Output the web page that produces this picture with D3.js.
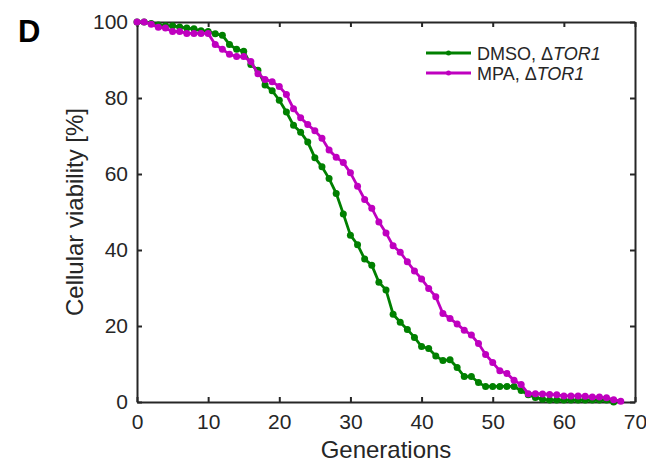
<!DOCTYPE html>
<html>
<head>
<meta charset="utf-8">
<script src="https://cdn.jsdelivr.net/npm/d3@7"></script>
<style>
  body { margin: 0; background: #fff; }
  text { font-family: "Liberation Sans", Arial, sans-serif; fill: #262626; }
</style>
</head>
<body>
<div id="chart"></div>
<script>
// data (one point per generation)
var generations = d3.range(0, 69);
var dmsoValues = [100, 100, 99.6, 99.2, 99, 99, 98.7, 98.4, 98.2, 97.7,
  97.5, 96.9, 96.5, 94.1, 92.8, 92.3, 88.8, 87.3, 83.4, 81.9,
  79.4, 76.3, 72.8, 71, 68.4, 64.3, 61.9, 58.8, 54.9, 49.5,
  43.9, 41.4, 37.6, 36, 31.5, 29.5, 23.1, 21, 19.1, 17,
  14.6, 14.1, 12.1, 10.9, 11.1, 9.1, 6.7, 6.7, 5.1, 4.1,
  4.1, 4.1, 4.1, 4.1, 3.0, 1.9, 1.2, 0.7, 0.5, 0.5,
  0.5, 0.5, 0.5, 0.5, 0.5, 0.5, 0.5, 0];
var mpaValues = [100, 100, 99.4, 98.6, 98.4, 97.5, 97.5, 97, 97, 97,
  97, 94.1, 92.8, 91.5, 90.9, 90.9, 89.6, 86.4, 84.9, 84.3,
  83, 80.9, 77.2, 74.8, 73, 71.4, 69.4, 66.3, 64.4, 63,
  60.3, 56.8, 53.3, 51, 47.4, 44.5, 41.1, 39.4, 36.9, 34.5,
  32.4, 29.9, 27.7, 23.3, 22, 20.5, 18.9, 17.6, 15.4, 12.5,
  10.4, 8.2, 7.5, 5.7, 4.6, 2.2, 2.2, 2.1, 2.0, 1.9,
  1.6, 1.6, 1.6, 1.5, 1.3, 1.3, 1.1, 0.6, 0.2];
var xTicks = [0, 10, 20, 30, 40, 50, 60, 70];
var yTicks = [0, 20, 40, 60, 80, 100];
var seriesNames = ["DMSO, ", "MPA, "];
var seriesColors = ["#008000", "#bf00bf"];

var svgWidth = 646;
var svgHeight = 466;
var margin = { top: 22, right: 11, bottom: 64, left: 137 };
var width = svgWidth - margin.left - margin.right;
var height = svgHeight - margin.top - margin.bottom;

var svg = d3.select("#chart")
  .append("svg")
  .attr("width", svgWidth)
  .attr("height", svgHeight);

var chartGroup = svg.append("g")
  .attr("transform", `translate(${margin.left}, ${margin.top})`);

var xScale = d3.scaleLinear().domain([0, 70]).range([0, width]);
var yScale = d3.scaleLinear().domain([0, 100]).range([height, 0]);

// axes, MATLAB style box with inward ticks
var bottomAxis = d3.axisBottom(xScale).tickValues(xTicks).tickSizeInner(-5).tickSizeOuter(0).tickPadding(12);
var leftAxis = d3.axisLeft(yScale).tickValues(yTicks).tickSizeInner(-5).tickSizeOuter(0).tickPadding(9);
var topAxis = d3.axisTop(xScale).tickValues(xTicks).tickSizeInner(-5).tickSizeOuter(0).tickFormat("");
var rightAxis = d3.axisRight(yScale).tickValues(yTicks).tickSizeInner(-5).tickSizeOuter(0).tickFormat("");

chartGroup.append("g").attr("class", "axis")
  .attr("transform", `translate(0, ${height})`).call(bottomAxis);
chartGroup.append("g").attr("class", "axis").call(leftAxis);
chartGroup.append("g").attr("class", "axis").call(topAxis);
chartGroup.append("g").attr("class", "axis")
  .attr("transform", `translate(${width}, 0)`).call(rightAxis);

chartGroup.selectAll(".axis path, .axis line")
  .attr("stroke", "#262626")
  .attr("stroke-width", 2);
chartGroup.selectAll(".axis text")
  .attr("fill", "#262626")
  .style("font-size", "21px")
  .style("font-family", "'Liberation Sans', Arial, sans-serif");

// lines + dots
var allSeries = [dmsoValues, mpaValues];
var line = d3.line()
  .x((d, i) => xScale(generations[i]))
  .y(d => yScale(d));

allSeries.forEach(function(vals, k) {
  chartGroup.append("path")
    .datum(vals)
    .attr("fill", "none")
    .attr("stroke", seriesColors[k])
    .attr("stroke-width", 2.8)
    .attr("d", line);
  chartGroup.append("g")
    .selectAll("circle")
    .data(vals)
    .enter()
    .append("circle")
    .attr("cx", (d, i) => xScale(generations[i]))
    .attr("cy", d => yScale(d))
    .attr("r", 3.5)
    .attr("fill", seriesColors[k]);
});

// legend
var legend = svg.append("g");
seriesNames.forEach(function(name, k) {
  var ly = 53 + k * 20;
  legend.append("line")
    .attr("x1", 426).attr("x2", 471)
    .attr("y1", ly).attr("y2", ly)
    .attr("stroke", seriesColors[k])
    .attr("stroke-width", 3);
  legend.append("circle")
    .attr("cx", 448.5).attr("cy", ly).attr("r", 2.5)
    .attr("fill", seriesColors[k]);
  var t = legend.append("text")
    .attr("x", 477).attr("y", ly + 6.5)
    .style("font-size", "18px");
  t.append("tspan").text(name + "\u0394");
  t.append("tspan").style("font-style", "italic").text("TOR1");
});

// axis labels
svg.append("text")
  .attr("x", margin.left + width / 2)
  .attr("y", 458)
  .attr("text-anchor", "middle")
  .style("font-size", "24px")
  .text("Generations");

svg.append("text")
  .attr("transform", "translate(83, 212) rotate(-90)")
  .attr("text-anchor", "middle")
  .style("font-size", "24px")
  .text("Cellular viability [%]");

// panel letter
svg.append("text")
  .attr("x", 18).attr("y", 42)
  .style("font-size", "31px")
  .style("font-weight", "bold")
  .style("fill", "#000")
  .text("D");
</script>
</body>
</html>
